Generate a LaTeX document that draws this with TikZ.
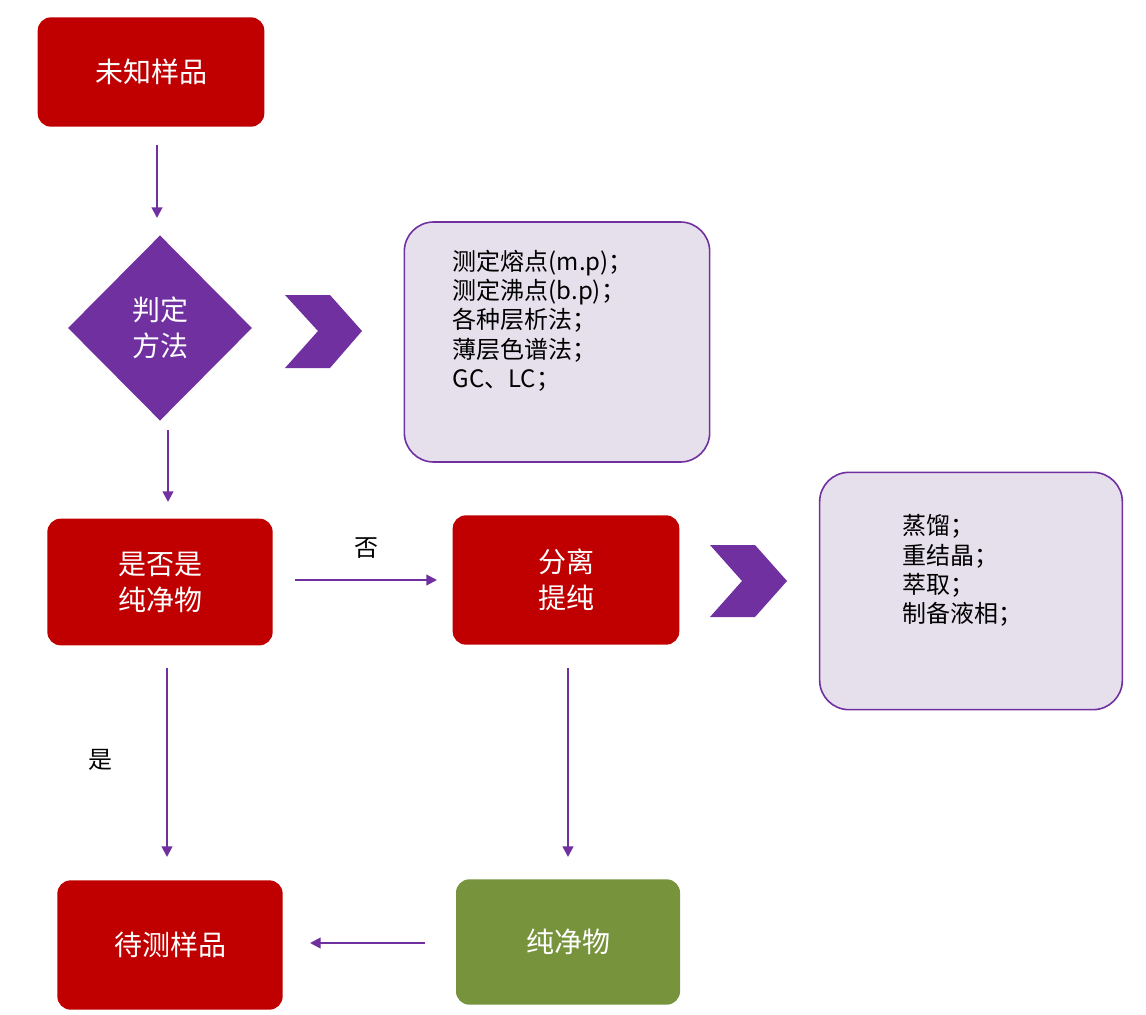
\documentclass[tikz,border=0pt]{standalone}
\usepackage{fontspec}
\setmainfont{Noto Sans CJK SC}
\usetikzlibrary{shapes.geometric,arrows.meta}
\definecolor{red1}{HTML}{C00000}
\definecolor{pur}{HTML}{7030A0}
\definecolor{grn}{HTML}{77933C}
\definecolor{lav}{HTML}{E6E0EC}
\begin{document}
\begin{tikzpicture}[x=0.75pt,y=-0.75pt,
 box/.style={draw=none,fill=#1,rounded corners=10pt,text=white,font=\fontsize{21}{27}\selectfont,align=center,inner sep=0pt},
 info/.style={draw=pur,line width=1.2pt,fill=lav,rounded corners=22pt,inner sep=0pt},
 arr/.style={pur,line width=1.6pt,-{Triangle[length=8pt,width=8pt]}},
 lab/.style={font=\fontsize{18}{22}\selectfont}]
\useasboundingbox (0,0) rectangle (1146,1014);
\node[box=red1,minimum width=170pt,minimum height=82pt] (a) at (151,72) {未知样品};
\node[diamond,fill=pur,text=white,minimum width=138pt,minimum height=139pt,inner sep=0pt,font=\fontsize{21}{27}\selectfont,align=center,aspect=1] (d) at (160,328) {判定\\方法};
\node[info,minimum width=229pt,minimum height=180pt] (i1) at (557,342) {};
\node[lab,anchor=north west,align=left] (t1) at (448,245) {\fontsize{18}{27}\selectfont 测定熔点(m.p)；\\测定沸点(b.p)；\\各种层析法；\\薄层色谱法；\\GC、LC；};
\node[box=red1,minimum width=169pt,minimum height=95pt] (b) at (160,582) {是否是\\纯净物};
\node[box=red1,minimum width=170pt,minimum height=97pt] (c) at (566,580) {分离\\提纯};
\node[info,minimum width=227pt,minimum height=178pt] (i2) at (971,591) {};
\node[lab,anchor=north west,align=left] (t2) at (898,510) {\fontsize{18}{30}\selectfont 蒸馏；\\重结晶；\\萃取；\\制备液相；};
\node[box=red1,minimum width=169pt,minimum height=97pt] (e) at (170,945) {待测样品};
\node[box=grn,minimum width=168pt,minimum height=94pt] (f) at (568,942) {纯净物};
\fill[pur] (285,295) -- (330,295) -- (362,331) -- (330,368) -- (285,368) -- (318,331) -- cycle;
\fill[pur] (710,545) -- (755,545) -- (787,581) -- (755,617) -- (710,617) -- (742,581) -- cycle;
\coordinate (p1) at (157,145); \coordinate (p2) at (157,218);
\draw[arr] (p1) -- (p2);
\coordinate (p3) at (168,430); \coordinate (p4) at (168,502);
\draw[arr] (p3) -- (p4);
\coordinate (p5) at (295,580); \coordinate (p6) at (437,580);
\draw[arr] (p5) -- node[above=12pt,lab,text=black] (no) {否} (p6);
\coordinate (p7) at (167,668); \coordinate (p8) at (167,857);
\draw[arr] (p7) -- (p8);
\node[lab] (yes) at (100,760) {是};
\coordinate (p9) at (568,668); \coordinate (p10) at (568,857);
\draw[arr] (p9) -- (p10);
\coordinate (p11) at (425,943); \coordinate (p12) at (310,943);
\draw[arr] (p11) -- (p12);
\end{tikzpicture}
\end{document}
